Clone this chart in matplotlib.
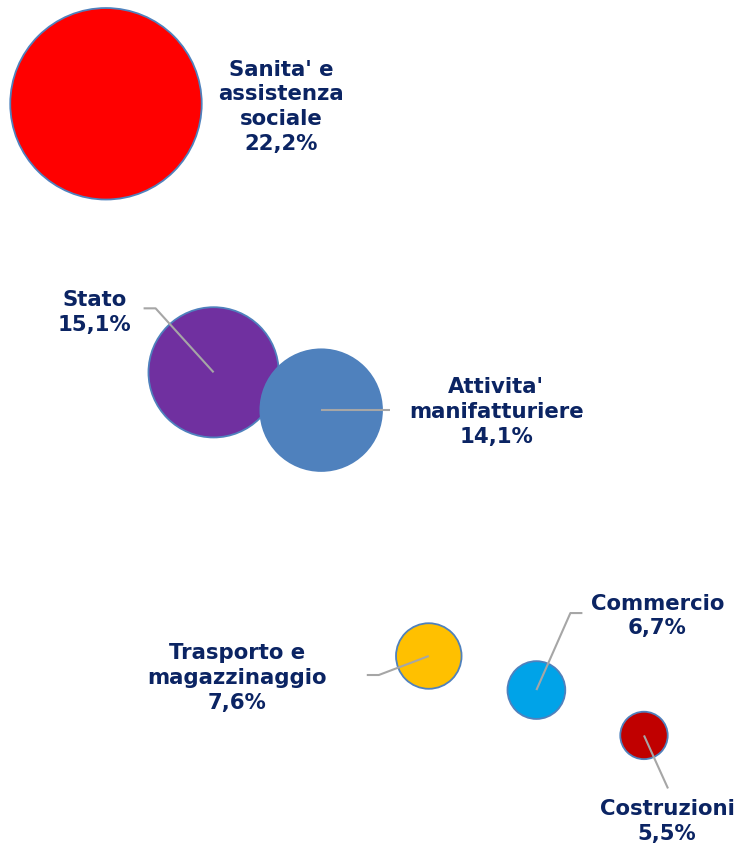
import matplotlib
matplotlib.use("Agg")
import matplotlib.pyplot as plt
import numpy as np

categories = ["Sanita' e\nassistenza\nsociale", "Stato", "Attivita'\nmanifatturiere",
              "Trasporto e\nmagazzinaggio", "Commercio", "Costruzioni"]
x_pos = [1, 2, 3, 4, 5, 6]
values = [22.2, 15.1, 14.1, 7.6, 6.7, 5.5]
labels_pct = ["22,2%", "15,1%", "14,1%", "7,6%", "6,7%", "5,5%"]
colors = ["#FF0000", "#7030A0", "#4F81BD", "#FFC000", "#00A3E8", "#C00000"]

W, H, DPI = 739, 845, 100
fig = plt.figure(figsize=(W / DPI, H / DPI), dpi=DPI)
ax = fig.add_axes([0, 0, 1, 1])
ax.set_xlim(0.015, 6.883)
ax.set_ylim(2.63, 24.97)
ax.axis("off")

# bubble diameter (points) proportional to value
diam_pt = 6.21 * np.array(values)
ax.scatter(x_pos, values, s=diam_pt ** 2, c=colors, edgecolors="#4F81BD",
           linewidths=1.3, zorder=3)

# label offsets (pixels, relative to bubble centre) and leader lines
label_off = [(175, -2), (-119, 61), (175, -1), (-192, -21), (121, 75), (23, -85)]
# leader line paths in pixel offsets relative to bubble centre (None = no line)
leaders = [None,
           [(-70, 64), (-58, 64), (0, 0)],
           [(0, 0), (69, 0)],
           [(-62, -19), (-50, -19), (0, 0)],
           [(46, 77), (34, 77), (0, 0)],
           [(0, 0), (24, -53)]]

navy = "#0B2463"
fig.canvas.draw()
for i in range(len(values)):
    cx, cy = ax.transData.transform((x_pos[i], values[i]))
    if leaders[i] is not None:
        pts = np.array(leaders[i], dtype=float)
        ax.plot(cx + pts[:, 0], cy + pts[:, 1], color="#A6A6A6", lw=1.5,
                transform=None, zorder=4, solid_capstyle="butt")
    dx, dy = label_off[i]
    ax.annotate(categories[i] + "\n" + labels_pct[i], xy=(x_pos[i], values[i]),
                xytext=(dx * 0.72, dy * 0.72), textcoords="offset points",
                ha="center", va="center", multialignment="center",
                fontsize=15.3, fontweight="bold", color=navy,
                fontfamily="DejaVu Sans", linespacing=1.3, zorder=5)

fig.savefig("out.png", dpi=DPI)
